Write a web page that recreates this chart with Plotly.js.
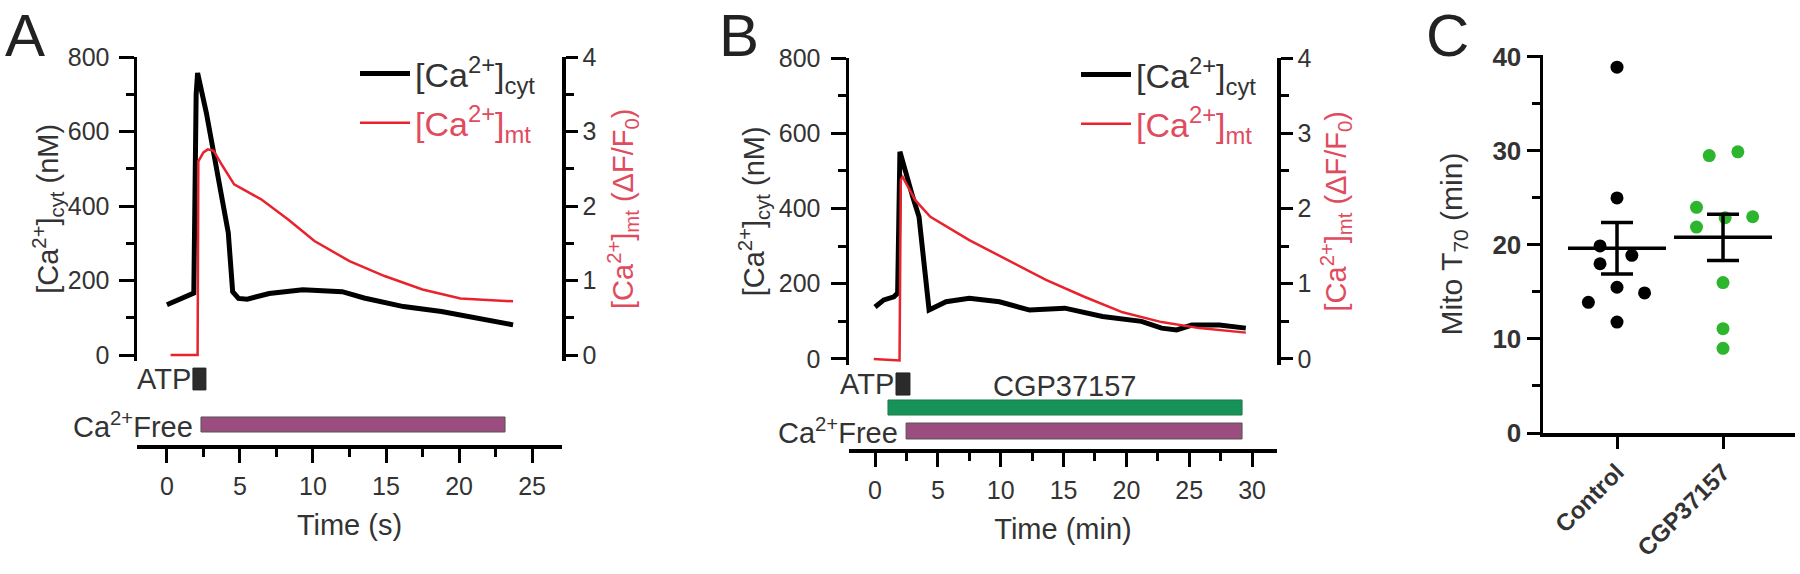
<!DOCTYPE html>
<html><head><meta charset="utf-8">
<script src="https://cdn.plot.ly/plotly-3.0.1.min.js"></script>
<style>html,body{margin:0;padding:0;background:#fff}#chart{width:1800px;height:574px}</style>
</head><body><div id="chart"></div>
<script>
// ---------- Panel A (time in s) ----------
const cytA_t = [0, 1.0, 1.84, 2.0, 2.1, 2.7, 3.2, 3.8, 4.2, 4.5, 4.9, 5.5, 7.0, 9.3, 12.0, 13.5, 16.2, 18.8, 21.4, 23.7];
const cytA_v = [135, 150, 166, 700, 757, 650, 540, 420, 328, 170, 152, 150, 165, 175, 170, 153, 130, 117, 99, 81];
const mtA_t = [0.25, 2.1, 2.15, 2.5, 2.8, 3.2, 3.8, 4.6, 6.45, 8.3, 10.1, 12.5, 14.9, 17.5, 20.1, 23.7];
const mtA_v = [0, 0, 2.6, 2.72, 2.76, 2.74, 2.54, 2.29, 2.09, 1.82, 1.53, 1.26, 1.06, 0.88, 0.76, 0.72];
const atpA = [1.78, 2.67];
const caFreeA = [2.33, 23.15];

// ---------- Panel B (time in min) ----------
const cytB_t = [0, 0.7, 1.5, 1.8, 1.98, 2.43, 3.0, 3.5, 3.8, 4.3, 5.65, 7.5, 9.9, 12.3, 15.1, 18.1, 21.2, 22.8, 24.0, 25.2, 27.4, 29.5];
const cytB_v = [138, 157, 165, 175, 551, 494, 431, 378, 290, 130, 152, 161, 152, 130, 135, 113, 100, 82, 77, 90, 90, 82];
const mtB_t = [-0.1, 1.95, 2.05, 2.2, 3.2, 4.4, 7.5, 10.5, 13.6, 16.6, 19.7, 22.8, 25.8, 29.5];
const mtB_v = [0, -0.02, 2.38, 2.42, 2.11, 1.89, 1.58, 1.32, 1.05, 0.83, 0.62, 0.49, 0.41, 0.35];
const atpB = [1.67, 2.78];
const cgpB = [1.03, 29.2];
const caFreeB = [2.47, 29.2];

// ---------- Panel C ----------
const groups = ['Control', 'CGP37157'];
const controlT70 = [38.9, 25.0, 19.9, 18.0, 18.9, 15.5, 14.9, 13.9, 11.8];
const cgpT70 = [29.5, 29.9, 24.0, 21.9, 22.9, 23.0, 16.0, 11.1, 9.0];
// horizontal swarm offsets (category units), layout only
const controlSwarm = [0, 0, -0.16, -0.16, 0.14, 0, 0.26, -0.27, 0];
const cgpSwarm = [-0.13, 0.14, -0.25, -0.25, 0.02, 0.28, 0, 0, 0];

// ---------- helpers ----------
const W = 1800, H = 574;
const px = v => v / W;
const py = v => 1 - v / H;
const FONT = 'Liberation Sans, Arial, sans-serif';
const TXT = '#333';
const RED = '#e8232d';
const REDTXT = '#e04b5e';
const PURPLE = '#9b4d7f';
const GREEN_BAR = '#17935a';
const GREEN_DOT = '#2db52d';
const TICK = 25, TITLE = 29, STIM = 29, LEG = 34, CFONT = 26;

function mean(a) { return a.reduce((s, v) => s + v, 0) / a.length; }
function sem(a) { const m = mean(a); const sd = Math.sqrt(a.reduce((s, v) => s + (v - m) * (v - m), 0) / (a.length - 1)); return sd / Math.sqrt(a.length); }

const cytName = '[Ca<sup>2+</sup>]<sub>cyt</sub>';
const mtName = '<span style="color:' + REDTXT + '">[Ca<sup>2+</sup>]<sub>mt</sub></span>';

function stimBar(range, row, width, color, xa, ya, lineColor) {
  return { type: 'bar', orientation: 'h', base: [range[0]], x: [range[1] - range[0]], y: [row], width: [width],
    xaxis: xa, yaxis: ya, marker: { color: color, line: { color: lineColor || '#555', width: 1 } },
    showlegend: false, hoverinfo: 'skip' };
}

const traces = [
  // A
  { x: cytA_t, y: cytA_v, xaxis: 'x', yaxis: 'y', mode: 'lines', line: { color: '#000', width: 5 }, name: cytName, legend: 'legend', legendgroup: 'a1' },
  { x: mtA_t, y: mtA_v, xaxis: 'x', yaxis: 'y2', mode: 'lines', line: { color: RED, width: 2.5 }, name: mtName, legend: 'legend', legendgroup: 'a2' },
  stimBar(caFreeA, 0, 0.33, PURPLE, 'x', 'y3'),
  stimBar(atpA, 1, 0.48, '#2b2b2b', 'x', 'y3', '#222'),
  // B
  { x: cytB_t, y: cytB_v, xaxis: 'x2', yaxis: 'y4', mode: 'lines', line: { color: '#000', width: 5 }, name: cytName, legend: 'legend2', legendgroup: 'b1' },
  { x: mtB_t, y: mtB_v, xaxis: 'x2', yaxis: 'y5', mode: 'lines', line: { color: RED, width: 2.5 }, name: mtName, legend: 'legend2', legendgroup: 'b2' },
  stimBar(caFreeB, 0, 0.68, PURPLE, 'x2', 'y6'),
  stimBar(cgpB, 1, 0.64, GREEN_BAR, 'x2', 'y6', '#1d7a4c'),
  stimBar(atpB, 2, 0.94, '#2b2b2b', 'x2', 'y6', '#222'),
  // C
  { x: controlT70.map((v, i) => 0 + controlSwarm[i]), y: controlT70, xaxis: 'x3', yaxis: 'y7', mode: 'markers',
    marker: { color: '#000', size: 13 }, showlegend: false },
  { x: cgpT70.map((v, i) => 1 + cgpSwarm[i]), y: cgpT70, xaxis: 'x3', yaxis: 'y7', mode: 'markers',
    marker: { color: GREEN_DOT, size: 13 }, showlegend: false },
  { x: [0, 1], y: [mean(controlT70), mean(cgpT70)], xaxis: 'x3', yaxis: 'y7', mode: 'markers',
    marker: { symbol: 'line-ew-open', size: 70, color: '#000', line: { color: '#000', width: 3.5 } },
    error_y: { type: 'data', array: [sem(controlT70), sem(cgpT70)], thickness: 3.5, width: 16, color: '#000' },
    showlegend: false }
];

const axBase = { showline: true, linecolor: '#000', linewidth: 3.5, ticks: 'outside', tickcolor: '#000', tickwidth: 3,
  showgrid: false, zeroline: false, tickfont: { family: FONT, size: TICK, color: TXT } };
const minorT = (d) => ({ ticks: 'outside', ticklen: 8, tickwidth: 3, tickcolor: '#000', dtick: d });

function titleFont(size, color) { return { family: FONT, size: size, color: color || TXT }; }

const layout = {
  width: W, height: H, margin: { l: 0, r: 0, t: 0, b: 0 }, paper_bgcolor: '#fff', plot_bgcolor: 'rgba(0,0,0,0)',
  font: { family: FONT, color: TXT }, bargap: 0,
  // ----- A -----
  xaxis: Object.assign({}, axBase, { domain: [px(137), px(562)], range: [-2.05, 27.05], anchor: 'free', position: py(446),
    ticklen: 14, tick0: 0, dtick: 5, minor: minorT(2.5), ticklabelstandoff: 2,
    title: { text: 'Time (s)', font: titleFont(TITLE), standoff: 16 } }),
  yaxis: Object.assign({}, axBase, { domain: [py(360.6), py(57)], range: [-15, 800], anchor: 'x', ticklen: 15, dtick: 200,
    minor: minorT(100), ticklabelstandoff: 4,
    title: { text: '[Ca<sup>2+</sup>]<sub>cyt</sub> (nM)', font: titleFont(TITLE), standoff: 0 } }),
  yaxis2: Object.assign({}, axBase, { overlaying: 'y', side: 'right', anchor: 'x', range: [-0.075, 4], ticklen: 12, dtick: 1,
    minor: minorT(0.5),
    title: { text: '[Ca<sup>2+</sup>]<sub>mt</sub> (ΔF/F<sub>0</sub>)', font: titleFont(TITLE, REDTXT), standoff: 18 } }),
  yaxis3: { domain: [py(442.7), py(360.8)], range: [-0.4, 1.4], anchor: 'x', visible: false, fixedrange: true },
  // ----- B -----
  xaxis2: Object.assign({}, axBase, { domain: [px(849), px(1277)], range: [-2.07, 31.98], anchor: 'free', position: py(450),
    ticklen: 14, tick0: 0, dtick: 5, minor: minorT(2.5), ticklabelstandoff: 2,
    title: { text: 'Time (min)', font: titleFont(TITLE), standoff: 16 } }),
  yaxis4: Object.assign({}, axBase, { domain: [py(364.6), py(58)], range: [-15, 800], anchor: 'x2', ticklen: 15, dtick: 200,
    minor: minorT(100), ticklabelstandoff: 5,
    title: { text: '[Ca<sup>2+</sup>]<sub>cyt</sub> (nM)', font: titleFont(TITLE), standoff: 6 } }),
  yaxis5: Object.assign({}, axBase, { overlaying: 'y4', side: 'right', anchor: 'x2', range: [-0.075, 4], ticklen: 12, dtick: 1,
    minor: minorT(0.5),
    title: { text: '[Ca<sup>2+</sup>]<sub>mt</sub> (ΔF/F<sub>0</sub>)', font: titleFont(TITLE, REDTXT), standoff: 16 } }),
  yaxis6: { domain: [py(445.1), py(369.9)], range: [-0.6, 2.6], anchor: 'x2', visible: false, fixedrange: true },
  // ----- C -----
  xaxis3: Object.assign({}, axBase, { domain: [px(1543), px(1795)], range: [-0.698, 1.679], anchor: 'y7', ticklen: 12,
    tickvals: [0, 1], ticktext: groups, tickangle: -45, tickfont: { family: FONT, size: 24, color: TXT, weight: 'bold' } }),
  yaxis7: Object.assign({}, axBase, { domain: [py(433), py(55)], range: [0, 40.2], anchor: 'x3', ticklen: 13, dtick: 10,
    minor: minorT(5),
    tickfont: { family: FONT, size: CFONT, color: TXT, weight: 'bold' },
    title: { text: 'Mito T<sub>70</sub> (min)', font: titleFont(30), standoff: 22 } }),
  // legends
  legend: { x: px(355), y: py(45), xanchor: 'left', yanchor: 'top', bgcolor: 'rgba(0,0,0,0)', borderwidth: 0,
    font: { family: FONT, size: LEG, color: TXT }, tracegroupgap: 2, itemwidth: 50 },
  legend2: { x: px(1076), y: py(46), xanchor: 'left', yanchor: 'top', bgcolor: 'rgba(0,0,0,0)', borderwidth: 0,
    font: { family: FONT, size: LEG, color: TXT }, tracegroupgap: 2, itemwidth: 50 },
  annotations: [
    { text: 'A', xref: 'paper', yref: 'paper', x: px(25), y: 1, xanchor: 'center', yanchor: 'top', showarrow: false, font: { family: FONT, size: 60, color: '#222' } },
    { text: 'B', xref: 'paper', yref: 'paper', x: px(739), y: 1, xanchor: 'center', yanchor: 'top', showarrow: false, font: { family: FONT, size: 60, color: '#222' } },
    { text: 'C', xref: 'paper', yref: 'paper', x: px(1447), y: 1, xanchor: 'center', yanchor: 'top', showarrow: false, font: { family: FONT, size: 60, color: '#222' } },
    { text: 'ATP', xref: 'x', yref: 'y3', x: atpA[0], y: 1, xanchor: 'right', yanchor: 'middle', showarrow: false, font: { family: FONT, size: STIM, color: TXT } },
    { text: 'Ca<sup>2+</sup>Free', xref: 'x', yref: 'y3', x: caFreeA[0], y: 0, xanchor: 'right', yanchor: 'middle', xshift: -6, showarrow: false, font: { family: FONT, size: STIM, color: TXT } },
    { text: 'ATP', xref: 'x2', yref: 'y6', x: atpB[0], y: 2, xanchor: 'right', yanchor: 'middle', showarrow: false, font: { family: FONT, size: STIM, color: TXT } },
    { text: 'CGP37157', xref: 'x2', yref: 'y6', x: (cgpB[0] + cgpB[1]) / 2, y: 1, xanchor: 'center', yanchor: 'middle', yshift: 22, showarrow: false, font: { family: FONT, size: STIM, color: TXT } },
    { text: 'Ca<sup>2+</sup>Free', xref: 'x2', yref: 'y6', x: caFreeB[0], y: 0, xanchor: 'right', yanchor: 'middle', xshift: -6, showarrow: false, font: { family: FONT, size: STIM, color: TXT } }
  ]
};

Plotly.newPlot('chart', traces, layout, { staticPlot: true, displayModeBar: false });
</script>
</body></html>
